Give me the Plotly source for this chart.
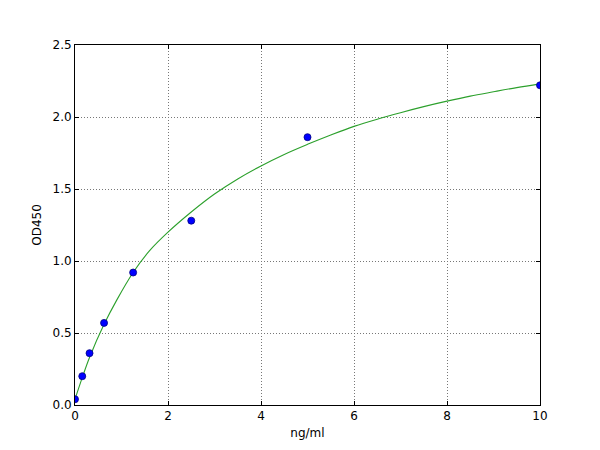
import plotly.graph_objects as go

# standard points
conc = [0, 0.156, 0.3125, 0.625, 1.25, 2.5, 5, 10]
od = [0.04, 0.20, 0.36, 0.57, 0.92, 1.28, 1.86, 2.22]

# fitted curve
fit_x = [0, 0.156, 0.3125, 0.625, 0.9, 1.25, 1.6, 2, 2.5, 3, 3.5, 4, 4.5, 5,
         5.5, 6, 6.5, 7, 7.5, 8, 8.5, 9, 9.5, 10]
fit_y = [0.04, 0.19, 0.33, 0.56, 0.73, 0.92, 1.07, 1.20, 1.34, 1.465, 1.57, 1.66,
         1.74, 1.81, 1.875, 1.935, 1.985, 2.03, 2.072, 2.11, 2.145, 2.175, 2.204, 2.23]

fig = go.Figure()

fig.add_trace(go.Scatter(
    x=fit_x, y=fit_y, mode="lines",
    line=dict(color="#2ca02c", width=1.1, shape="spline", smoothing=1.0),
    hoverinfo="skip",
))

fig.add_trace(go.Scatter(
    x=conc, y=od, mode="markers",
    marker=dict(color="#0000ff", size=7, line=dict(color="#000080", width=0.8)),
))

axis_common = dict(
    showline=True, linecolor="black", linewidth=1, mirror="ticks",
    ticks="inside", ticklen=4, tickcolor="black", tickwidth=1,
    showgrid=True, gridcolor="#777777", griddash="1px,2px", gridwidth=0.8,
    zeroline=False,
    tickfont=dict(family="DejaVu Sans", size=12, color="black"),
)

# the page puts the figure 8px in from the top left, margins make up for it
fig.update_layout(
    width=600, height=450,
    margin=dict(l=67, r=68, t=37, b=53),
    paper_bgcolor="white", plot_bgcolor="white",
    showlegend=False,
    font=dict(family="DejaVu Sans", size=12, color="black"),
    xaxis=dict(
        range=[0, 10], dtick=2, tickformat="d",
        title=dict(text="ng/ml", standoff=6, font=dict(size=12)),
        **axis_common,
    ),
    yaxis=dict(
        range=[0, 2.5], dtick=0.5, tickformat=".1f",
        title=dict(text="OD450", standoff=8, font=dict(size=12)),
        **axis_common,
    ),
)

fig.write_html("out.html")
